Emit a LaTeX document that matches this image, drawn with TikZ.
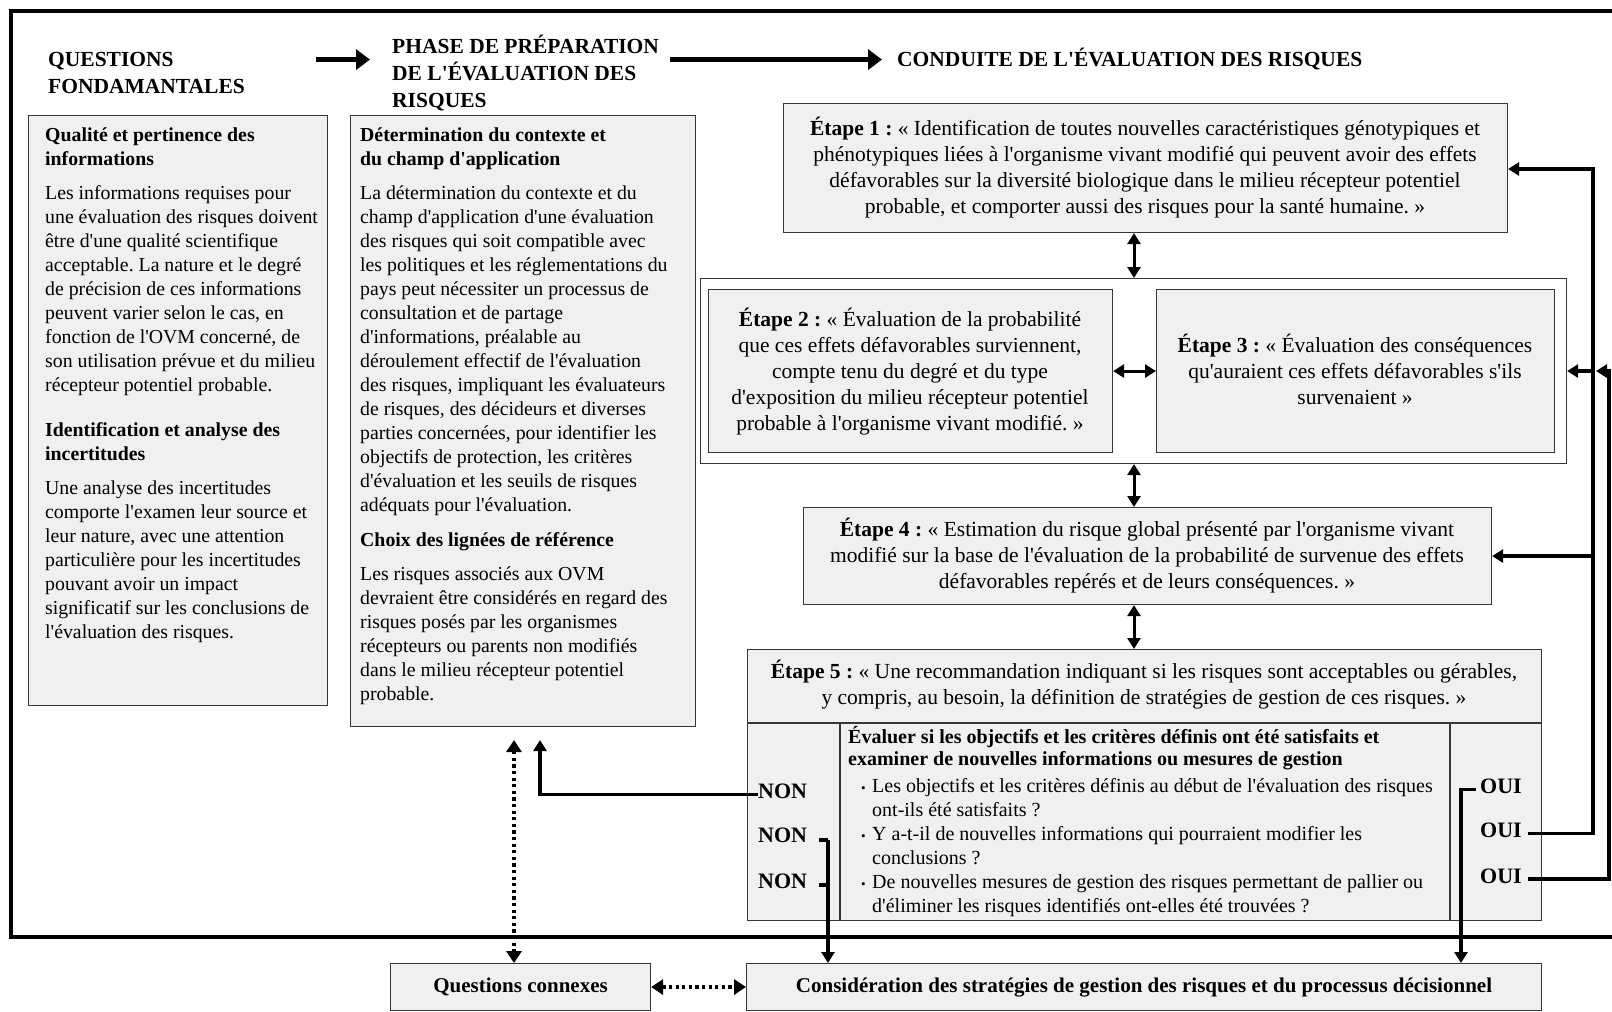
\documentclass[tikz,border=0pt]{standalone}
\usepackage{fontspec}
\setmainfont{Liberation Serif}
\usetikzlibrary{arrows.meta}
\definecolor{boxgray}{RGB}{240,240,240}
\definecolor{edgegray}{RGB}{55,55,55}
\newcommand\mystrut{\rule{0pt}{0.95em}}
\newcommand\q{\textquotesingle}
\frenchspacing
\begin{document}
\begin{tikzpicture}[x=1pt,y=-1pt,
  box/.style={draw=edgegray,line width=1.1pt,fill=boxgray,inner sep=0pt,anchor=north west},
  edge/.style={draw=edgegray,line width=1.1pt},
  hdr/.style={font=\fontsize{21.5}{27}\selectfont\bfseries,align=left,inner sep=0pt,anchor=north west},
  body/.style={font=\fontsize{19.8}{24}\selectfont,align=left,inner sep=0pt,anchor=north west},
  etxt/.style={font=\fontsize{21.5}{26}\selectfont,align=center,inner sep=0pt,anchor=north},
  inhdr/.style={font=\fontsize{20}{22}\selectfont\bfseries,align=left,inner sep=0pt,anchor=north west},
  inbody/.style={font=\fontsize{20}{24}\selectfont,align=left,inner sep=0pt,anchor=north west},
  lbl/.style={font=\fontsize{22}{26}\selectfont\bfseries,inner sep=0pt,anchor=west},
  btxt/.style={font=\fontsize{21}{26}\selectfont\bfseries},
  conn/.style={line width=3.4pt},
  tip/.style={-{Triangle[length=11pt,width=13pt]}},
  dtip/.style={{Triangle[length=11pt,width=13pt]}-{Triangle[length=11pt,width=13pt]}},
  bigtip/.style={line width=4.5pt,-{Triangle[length=14pt,width=20pt]}},
  dotarr/.style={line width=3.2pt,dash pattern=on 3.2pt off 3.4pt,{Triangle[length=12pt,width=15pt]}-{Triangle[length=12pt,width=15pt]}},
]
\useasboundingbox (0,0) rectangle (1612,1012);
\clip (0,0) rectangle (1612,1012);
\fill[white] (0,0) rectangle (1612,1012);

% outer frame
\draw[line width=4pt] (11,11) rectangle (1640,937);

% headers
\node[hdr] (qf) at (48,46.3) {\mystrut QUESTIONS\\FONDAMANTALES};
\node[hdr] (ph) at (392,33) {\mystrut PHASE DE PRÉPARATION\\DE L\q ÉVALUATION DES\\RISQUES};
\node[font=\fontsize{21.5}{27}\selectfont\bfseries,inner sep=0pt,anchor=base west] (co) at (897,66.7) {CONDUITE DE L\q ÉVALUATION DES RISQUES};
\coordinate (a1s) at (316,59.6);
\coordinate (a1e) at (370,59.6);
\coordinate (a2s) at (670,59.6);
\coordinate (a2e) at (882,59.6);
\draw[bigtip] (a1s) -- (a1e);
\draw[bigtip] (a2s) -- (a2e);

% left box
\node[box,minimum width=299pt,minimum height=590pt] (lbox) at (28,115) {};
\node[body] (ltxt) at (45,122.5) {\mystrut\textbf{Qualité et pertinence des}\\\textbf{informations}\\[10pt]
Les informations requises pour\\une évaluation des risques doivent\\être d\q une qualité scientifique\\acceptable. La nature et le degré\\de précision de ces informations\\peuvent varier selon le cas, en\\fonction de l\q OVM concerné, de\\son utilisation prévue et du milieu\\récepteur potentiel probable.\\[21pt]
\textbf{Identification et analyse des}\\\textbf{incertitudes}\\[10pt]
Une analyse des incertitudes\\comporte l\q examen leur source et\\leur nature, avec une attention\\particulière pour les incertitudes\\pouvant avoir un impact\\significatif sur les conclusions de\\l\q évaluation des risques.};

% middle box
\node[box,minimum width=345pt,minimum height=611pt] (mbox) at (350,115) {};
\node[body] (mtxt) at (360,122.5) {\mystrut\textbf{Détermination du contexte et}\\\textbf{du champ d\q application}\\[10pt]
La détermination du contexte et du\\champ d\q application d\q une évaluation\\des risques qui soit compatible avec\\les politiques et les réglementations du\\pays peut nécessiter un processus de\\consultation et de partage\\d\q informations, préalable au\\déroulement effectif de l\q évaluation\\des risques, impliquant les évaluateurs\\de risques, des décideurs et diverses\\parties concernées, pour identifier les\\objectifs de protection, les critères\\d\q évaluation et les seuils de risques\\adéquats pour l\q évaluation.\\[11pt]
\textbf{Choix des lignées de référence}\\[10pt]
Les risques associés aux OVM\\devraient être considérés en regard des\\risques posés par les organismes\\récepteurs ou parents non modifiés\\dans le milieu récepteur potentiel\\probable.};

% Etape 1
\node[box,minimum width=724pt,minimum height=129pt] (e1) at (783,103) {};
\node[etxt] (e1t) at (1145,115) {\mystrut\textbf{Étape 1 :} « Identification de toutes nouvelles caractéristiques génotypiques et\\phénotypiques liées à l\q organisme vivant modifié qui peuvent avoir des effets\\défavorables sur la diversité biologique dans le milieu récepteur potentiel\\probable, et comporter aussi des risques pour la santé humaine. »};

% container for Etapes 2 and 3
\node[box,fill=white,minimum width=866pt,minimum height=185pt] (cont) at (700,278) {};
\node[box,minimum width=404pt,minimum height=163pt] (e2) at (708,289) {};
\node[box,minimum width=398pt,minimum height=163pt] (e3) at (1156,289) {};
\node[etxt] (e2t) at (910,306) {\mystrut\textbf{Étape 2 :} « Évaluation de la probabilité\\que ces effets défavorables surviennent,\\compte tenu du degré et du type\\d\q exposition du milieu récepteur potentiel\\probable à l\q organisme vivant modifié. »};
\node[etxt] (e3t) at (1355,331.4) {\mystrut\textbf{Étape 3 :} « Évaluation des conséquences\\qu\q auraient ces effets défavorables s\q ils\\survenaient »};

% Etape 4
\node[box,minimum width=688pt,minimum height=97pt] (e4) at (803,507) {};
\node[etxt] (e4t) at (1147,515.4) {\mystrut\textbf{Étape 4 :} « Estimation du risque global présenté par l\q organisme vivant\\modifié sur la base de l\q évaluation de la probabilité de survenue des effets\\défavorables repérés et de leurs conséquences. »};

% Etape 5
\node[box,minimum width=794pt,minimum height=271pt] (e5) at (747,649) {};
\node[etxt] (e5t) at (1144,658.3) {\mystrut\textbf{Étape 5 :} « Une recommandation indiquant si les risques sont acceptables ou gérables,\\y compris, au besoin, la définition de stratégies de gestion de ces risques. »};
\coordinate (e5div) at (0,723);
\coordinate (col1) at (840,0);
\coordinate (col2) at (1450,0);
\draw[edge] (e5div -| e5.west) -- (e5div -| e5.east);
\draw[edge] (col1 |- e5div) -- (col1 |- e5.south);
\draw[edge] (col2 |- e5div) -- (col2 |- e5.south);
\node[inhdr] (e5h) at (848,724.5) {\mystrut Évaluer si les objectifs et les critères définis ont été satisfaits et\\examiner de nouvelles informations ou mesures de gestion};
\node[inbody] (e5b) at (861,772.8) {\mystrut\makebox[11pt][l]{\fontsize{13}{13}\selectfont•}Les objectifs et les critères définis au début de l\q évaluation des risques\\\hspace*{11pt}ont-ils été satisfaits ?\\\makebox[11pt][l]{\fontsize{13}{13}\selectfont•}Y a-t-il de nouvelles informations qui pourraient modifier les\\\hspace*{11pt}conclusions ?\\\makebox[11pt][l]{\fontsize{13}{13}\selectfont•}De nouvelles mesures de gestion des risques permettant de pallier ou\\\hspace*{11pt}d\q éliminer les risques identifiés ont-elles été trouvées ?};

\node[lbl] (non1) at (758,791.6) {NON};
\node[lbl] (non2) at (758,835.8) {NON};
\node[lbl] (non3) at (758,881) {NON};
\node[lbl] (oui1) at (1480,786.4) {OUI};
\node[lbl] (oui2) at (1480,830.6) {OUI};
\node[lbl] (oui3) at (1480,875.9) {OUI};

% bottom boxes
\node[box,minimum width=260pt,minimum height=47pt] (qc) at (390,963) {};
\node[btxt] (qct) at (qc.center) {Questions connexes};
\node[box,minimum width=795pt,minimum height=47pt] (cons) at (746,963) {};
\node[btxt] (const) at (cons.center) {Considération des stratégies de gestion des risques et du processus décisionnel};

% vertical double arrows between steps
\coordinate (vx) at (1134,0);
\draw[line width=3pt,dtip] (vx |- e1.south) -- (vx |- cont.north);
\draw[line width=3pt,dtip] (vx |- cont.south) -- (vx |- e4.north);
\draw[line width=3pt,dtip] (vx |- e4.south) -- (vx |- e5.north);
\draw[line width=3pt,dtip] (e2.east) -- (e3.west);

% NON feedback
\coordinate (ntip) at (540,740);
\draw[conn,tip] ([yshift=-3pt]non1.west) -| (ntip);
\coordinate (nj) at (828,0);
\draw[conn] ([xshift=12pt,yshift=-4pt]non2.east) -- ([yshift=-4pt]non2.east -| nj);
\draw[conn] ([xshift=12pt,yshift=-4pt]non3.east) -- ([yshift=-4pt]non3.east -| nj);
\draw[conn,tip] ([yshift=-4pt]non2.east -| nj) -- (nj |- cons.north);

% OUI feedback
\coordinate (oj) at (1461,0);
\draw[conn,tip] ([xshift=-4pt,yshift=-3pt]oui1.west) -- ([yshift=-3pt]oui1.west -| oj) -- (oj |- cons.north);
\coordinate (r1) at (1593,169);
\coordinate (r2) at (1609,0);
\draw[conn,tip] ([xshift=6pt,yshift=-3pt]oui2.east) -| (r1) -- (r1 -| e1.east);
\draw[conn,tip] (e4.east -| r1) -- (e4.east);
\draw[conn,tip] (cont.east -| r1) -- (cont.east);
\draw[conn,tip] ([xshift=6pt,yshift=-3pt]oui3.east) -| (r2 |- cont.east) -- ([xshift=3pt]cont.east -| r1);

% dotted connectors
\coordinate (dtop) at (514,740);
\draw[dotarr] (dtop) -- (dtop |- qc.north);
\draw[dotarr] (qc.east) -- (cons.west);
\end{tikzpicture}
\end{document}
